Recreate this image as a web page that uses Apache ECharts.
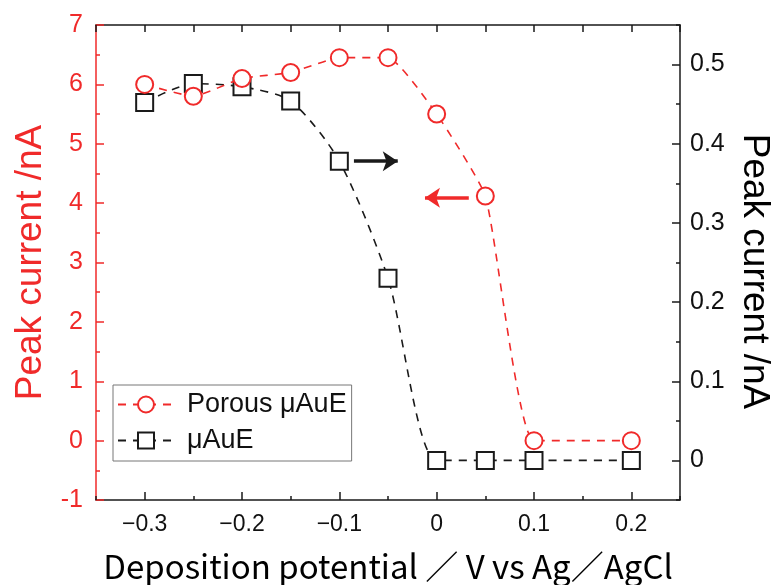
<!DOCTYPE html>
<html>
<head>
<meta charset="UTF-8">
<title>Peak current</title>
<style type="text/css">
	html, body { margin: 0; padding: 0; background: #fff; }
	#chart { width: 771px; height: 585px; }
</style>
<script type="text/javascript" src="https://cdn.jsdelivr.net/npm/echarts@6/dist/echarts.min.js"></script>
</head>
<body>
<div id="chart"></div>
<script type="text/javascript">
	// deposition potential (V vs Ag/AgCl)
	var potentials = [-0.3, -0.25, -0.2, -0.15, -0.1, -0.05, 0, 0.05, 0.1, 0.2];
	// porous uAuE, left axis (nA)
	var porousValues = [6.0, 5.8, 6.1, 6.2, 6.45, 6.45, 5.5, 4.12, 0.0, 0.0];
	// uAuE, right axis (nA)
	var flatValues = [0.452, 0.476, 0.472, 0.454, 0.378, 0.230, 0.0, 0.0, 0.0, 0.0];

	var xMajorTicks = [-0.3, -0.2, -0.1, 0, 0.1, 0.2];
	var rightMajorTicks = [0, 0.1, 0.2, 0.3, 0.4, 0.5];

	// arrows: [x start, y start], [x end, y end]
	var blackArrow = [[-0.085, 0.378], [-0.040, 0.378]];
	var redArrow = [[0.033, 4.09], [-0.012, 4.09]];

	var RED = '#f02a2a';
	var BLACK = '#1a1a1a';

	function pair(a, b) {
		var out = [];
		for (var i = 0; i < a.length; i++) out.push([a[i], b[i]]);
		return out;
	}
	function fmtX(v) {
		var s = String(Math.round(Math.abs(v) * 10) / 10);
		return v < -1e-9 ? '\u2212' + s : s;
	}

	var mychart = echarts.init(document.getElementById('chart'));
	var labelFont = 'Liberation Sans, Arial, sans-serif';

	var option = {
		animation: false,
		grid: { left: 96, right: 91, top: 25, bottom: 85, outerBoundsMode: 'none', containLabel: false },
		legend: {
			left: 113, top: 385,
			orient: 'vertical',
			padding: [6, 5, 7, 4],
			itemGap: 9,
			itemWidth: 56,
			itemHeight: 20,
			borderColor: '#777',
			borderWidth: 1,
			borderRadius: 0,
			textStyle: { fontSize: 27, color: '#111', fontFamily: labelFont, padding: [0, 0, 0, 8] },
			data: ['Porous \u03bcAuE', '\u03bcAuE']
		},
		xAxis: [{
			type: 'value', min: -0.35, max: 0.25, position: 'bottom',
			name: 'Deposition potential \uff0f V vs Ag\uff0fAgCl',
			nameLocation: 'middle', nameGap: 50,
			nameTextStyle: { fontSize: 33, color: '#000', fontFamily: 'Noto Sans CJK JP' },
			axisLine: { show: true, onZero: false, lineStyle: { color: BLACK, width: 1.5 } },
			axisTick: { show: true, inside: true, length: 8, customValues: xMajorTicks, lineStyle: { color: BLACK, width: 1.5 } },
			axisLabel: { customValues: xMajorTicks, formatter: fmtX, fontSize: 23, color: '#111', margin: 13, fontFamily: labelFont },
			splitLine: { show: false }
		}, {
			type: 'value', min: -0.35, max: 0.25, interval: 0.05, position: 'bottom',
			axisLine: { show: false, onZero: false },
			axisTick: { show: true, inside: true, length: 4, lineStyle: { color: BLACK, width: 1.5 } },
			axisLabel: { show: false },
			splitLine: { show: false }
		}, {
			type: 'value', min: -0.35, max: 0.25, interval: 0.05, position: 'top',
			axisLine: { show: true, onZero: false, lineStyle: { color: BLACK, width: 1.5 } },
			axisTick: { show: true, inside: true, length: 7, lineStyle: { color: BLACK, width: 1.5 } },
			axisLabel: { show: false },
			splitLine: { show: false }
		}],
		yAxis: [{
			type: 'value', min: -1, max: 7, interval: 1, position: 'left',
			name: 'Peak current /nA',
			nameLocation: 'middle', nameGap: 47,
			nameTextStyle: { fontSize: 37, color: RED, fontFamily: labelFont },
			axisLine: { show: true, onZero: false, lineStyle: { color: RED, width: 1.5 } },
			axisTick: { show: true, inside: true, length: 8, lineStyle: { color: RED, width: 1.5 } },
			minorTick: { show: true, splitNumber: 2, length: 4, lineStyle: { color: RED, width: 1.5 } },
			axisLabel: { fontSize: 25, color: RED, margin: 13, fontFamily: labelFont },
			splitLine: { show: false }
		}, {
			type: 'value', min: -0.05, max: 0.55, position: 'right',
			name: 'Peak current /nA',
			nameLocation: 'middle', nameGap: 50, nameRotate: -90,
			nameTextStyle: { fontSize: 37, color: '#000', fontFamily: labelFont, padding: [0, 0, 0, 18] },
			axisLine: { show: true, onZero: false, lineStyle: { color: BLACK, width: 1.5 } },
			axisTick: { show: true, inside: true, length: 8, customValues: rightMajorTicks, lineStyle: { color: BLACK, width: 1.5 } },
			axisLabel: { customValues: rightMajorTicks, fontSize: 25, color: '#111', margin: 10, fontFamily: labelFont },
			splitLine: { show: false }
		}, {
			type: 'value', min: -0.05, max: 0.55, interval: 0.05, position: 'right',
			axisLine: { show: false, onZero: false },
			axisTick: { show: true, inside: true, length: 4, lineStyle: { color: BLACK, width: 1.5 } },
			axisLabel: { show: false },
			splitLine: { show: false }
		}],
		series: [{
			name: 'Porous \u03bcAuE',
			type: 'line',
			xAxisIndex: 0, yAxisIndex: 0,
			data: pair(potentials, porousValues),
			smooth: 0.15,
			symbol: 'emptyCircle',
			symbolSize: 17,
			itemStyle: { color: RED, borderColor: RED, borderWidth: 3 },
			lineStyle: { color: RED, width: 1.6, type: [8, 7] },
			markLine: {
				silent: true,
				symbol: ['none', 'arrow'],
				symbolSize: [15, 15],
				label: { show: false },
				lineStyle: { color: RED, width: 3.5, type: 'solid' },
				data: [[{ coord: redArrow[0] }, { coord: redArrow[1] }]]
			},
			z: 3
		}, {
			name: '\u03bcAuE',
			type: 'line',
			xAxisIndex: 0, yAxisIndex: 1,
			data: pair(potentials, flatValues),
			smooth: 0.25,
			symbol: 'emptyRect',
			symbolSize: 17,
			itemStyle: { color: BLACK, borderColor: BLACK, borderWidth: 3 },
			lineStyle: { color: BLACK, width: 1.6, type: [8, 7] },
			markLine: {
				silent: true,
				symbol: ['none', 'arrow'],
				symbolSize: [15, 15],
				label: { show: false },
				lineStyle: { color: BLACK, width: 3.5, type: 'solid' },
				data: [[{ coord: blackArrow[0] }, { coord: blackArrow[1] }]]
			},
			z: 2
		}]
	};
	mychart.setOption(option);
</script>
</body>
</html>
